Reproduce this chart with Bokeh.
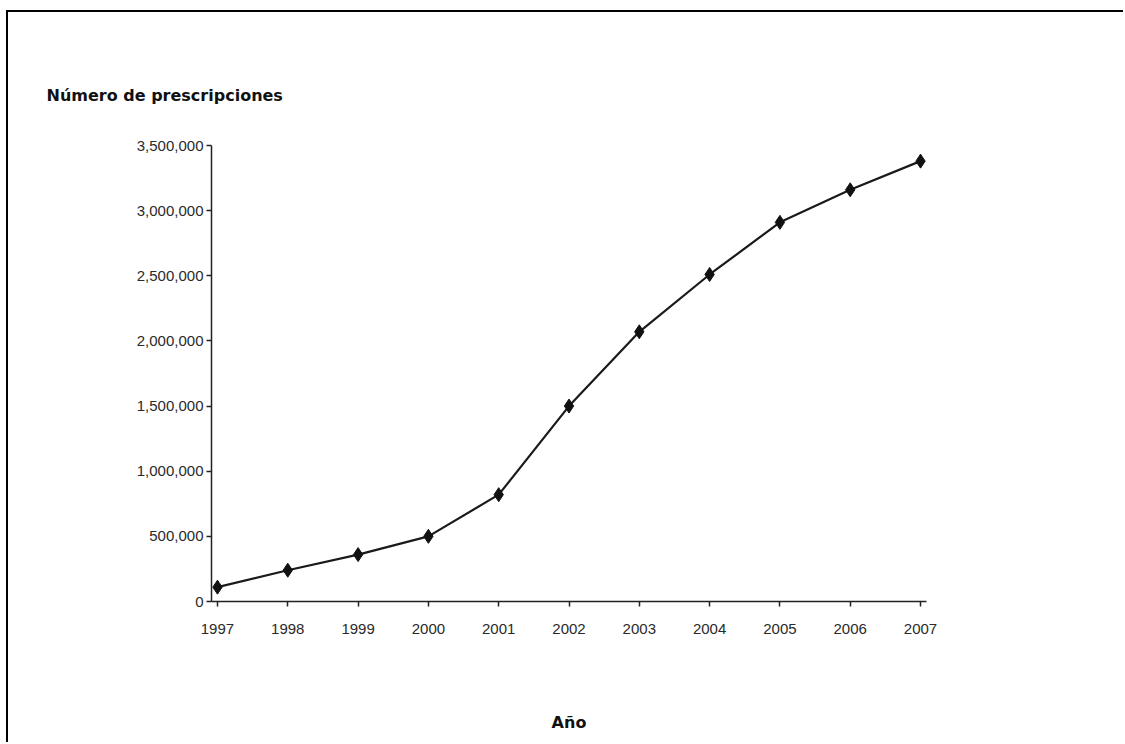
from bokeh.plotting import figure
from bokeh.models import Range1d, FixedTicker, NumeralTickFormatter
from bokeh.embed import file_html
from bokeh.resources import INLINE

years = [1997, 1998, 1999, 2000, 2001, 2002, 2003, 2004, 2005, 2006, 2007]
prescriptions = [110000, 240000, 360000, 500000, 820000, 1500000,
                 2070000, 2510000, 2910000, 3160000, 3380000]
y_ticks = [0, 500000, 1000000, 1500000, 2000000, 2500000, 3000000, 3500000]
title_text = "Número de prescripciones"
x_label = "Año"

p = figure(width=1117, height=732, output_backend="svg", toolbar_location=None,
           x_range=Range1d(1996.915, 2007.085), y_range=Range1d(0, 3500000),
           min_border_left=203, min_border_right=199,
           min_border_top=133, min_border_bottom=143,
           margin=(10, 0, 0, 6))
p.styles = {"border-top": "2px solid #000000", "border-left": "2px solid #000000"}
p.outline_line_color = None
p.grid.visible = False
p.background_fill_color = "white"
p.border_fill_color = "white"

p.title.text = title_text
p.title.align = "left"
p.title.offset = -165
p.title.standoff = 82
p.title.text_font = "DejaVu Sans"
p.title.text_font_style = "bold"
p.title.text_font_size = "16px"
p.title.text_color = "#111111"

tick_font = "'Liberation Sans', Arial, sans-serif"
for ax in (p.xaxis, p.yaxis):
    ax.axis_line_color = "#222222"
    ax.axis_line_width = 1.5
    ax.major_tick_line_color = "#222222"
    ax.major_tick_line_width = 1.5
    ax.major_tick_out = 5
    ax.major_tick_in = 0
    ax.minor_tick_out = 0
    ax.minor_tick_in = 0
    ax.major_label_text_font = tick_font
    ax.major_label_text_font_size = "15px"
    ax.major_label_text_color = "#2a2a2a"

p.xaxis.ticker = FixedTicker(ticks=years)
p.yaxis.ticker = FixedTicker(ticks=y_ticks)
p.yaxis.formatter = NumeralTickFormatter(format="0,0")
p.xaxis.major_label_standoff = 17
p.yaxis.major_label_standoff = 3

p.xaxis.axis_label = x_label
p.xaxis.axis_label_text_font = "DejaVu Sans"
p.xaxis.axis_label_text_font_style = "bold"
p.xaxis.axis_label_text_font_size = "16px"
p.xaxis.axis_label_text_color = "#111111"
p.xaxis.axis_label_standoff = 76

p.line(years, prescriptions, line_color="#1a1a1a", line_width=2.2)
p.scatter(years, prescriptions, marker="diamond", size=14, color="#111111")

open("out.html", "w").write(file_html(p, INLINE))
